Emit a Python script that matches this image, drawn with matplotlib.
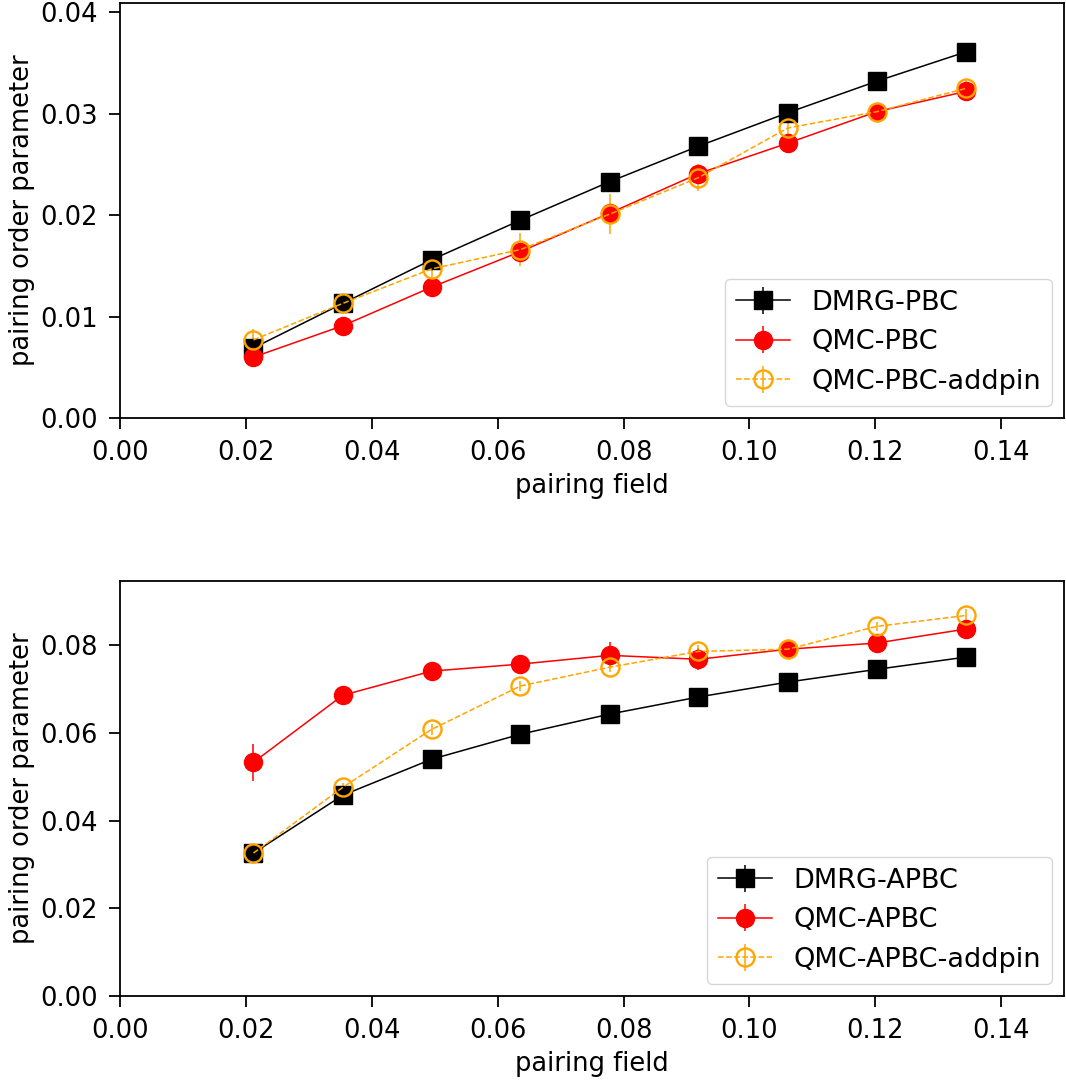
import numpy as np
import matplotlib
matplotlib.use("Agg")
import matplotlib.pyplot as plt

# pairing field values (shared by both panels)
field = [0.0212, 0.0354, 0.0495, 0.0636, 0.0778, 0.0919, 0.1061, 0.1202, 0.1344]

# PBC panel
dmrg_pbc = [0.0069, 0.0113, 0.0156, 0.0195, 0.0233, 0.0268, 0.0301, 0.0332, 0.0361]
dmrg_pbc_err = [0.0002, 0.0002, 0.0002, 0.0002, 0.0002, 0.0002, 0.0002, 0.0002, 0.0002]
qmc_pbc = [0.0060, 0.0091, 0.0129, 0.0164, 0.0202, 0.0241, 0.0271, 0.0302, 0.0322]
qmc_pbc_err = [0.0004, 0.0004, 0.0005, 0.0005, 0.0006, 0.0006, 0.0005, 0.0005, 0.0005]
pin_pbc = [0.0077, 0.0113, 0.0147, 0.0166, 0.0201, 0.0237, 0.0286, 0.0302, 0.0325]
pin_pbc_err = [0.0011, 0.0006, 0.0008, 0.0016, 0.0020, 0.0013, 0.0006, 0.0008, 0.0008]

# APBC panel
dmrg_apbc = [0.0326, 0.0458, 0.0540, 0.0597, 0.0643, 0.0682, 0.0716, 0.0745, 0.0773]
dmrg_apbc_err = [0.0004, 0.0004, 0.0004, 0.0004, 0.0004, 0.0004, 0.0004, 0.0004, 0.0004]
qmc_apbc = [0.0533, 0.0686, 0.0741, 0.0757, 0.0777, 0.0768, 0.0791, 0.0805, 0.0837]
qmc_apbc_err = [0.0042, 0.0010, 0.0010, 0.0015, 0.0030, 0.0025, 0.0012, 0.0012, 0.0012]
pin_apbc = [0.0326, 0.0476, 0.0608, 0.0707, 0.0750, 0.0786, 0.0791, 0.0843, 0.0868]
pin_apbc_err = [0.0008, 0.0010, 0.0012, 0.0012, 0.0012, 0.0015, 0.0008, 0.0010, 0.0015]

plt.rcParams['font.family'] = ['DejaVu Sans']

fig = plt.figure(figsize=(10.66, 10.8), dpi=100)
ax1 = fig.add_axes([0.1126, 0.613, 0.8856, 0.384])
ax2 = fig.add_axes([0.1126, 0.0778, 0.8856, 0.384])


def draw_panel(ax, dmrg, dmrg_err, qmc, qmc_err, pin, pin_err, labels, ylim):
    ax.errorbar(field, dmrg, yerr=dmrg_err, color='black', marker='s', markersize=13,
                linewidth=1.1, elinewidth=1.1, label=labels[0])
    ax.errorbar(field, qmc, yerr=qmc_err, color='red', marker='o', markersize=13,
                linewidth=1.1, elinewidth=1.1, label=labels[1])
    ax.errorbar(field, pin, yerr=pin_err, color='orange', marker='o', markersize=13,
                markerfacecolor='none', markeredgewidth=1.7, linestyle='--',
                linewidth=1.1, elinewidth=1.1, label=labels[2])
    ax.set_xlim(0, 0.15)
    ax.set_ylim(*ylim)
    ax.set_xticks(np.arange(0, 0.15, 0.02))
    ax.set_xlabel('pairing field', fontsize=18.5, labelpad=5)
    ax.set_ylabel('pairing order parameter', fontsize=18.5, labelpad=4)
    ax.tick_params(labelsize=18.5, length=8, width=1.3, pad=8)
    for s in ax.spines.values():
        s.set_linewidth(1.3)
    ax.legend(loc='lower right', fontsize=19.5, borderaxespad=0.45)


draw_panel(ax1, dmrg_pbc, dmrg_pbc_err, qmc_pbc, qmc_pbc_err, pin_pbc, pin_pbc_err,
           ['DMRG-PBC', 'QMC-PBC', 'QMC-PBC-addpin'], (0, 0.0409))
ax1.set_yticks([0.00, 0.01, 0.02, 0.03, 0.04])

draw_panel(ax2, dmrg_apbc, dmrg_apbc_err, qmc_apbc, qmc_apbc_err, pin_apbc, pin_apbc_err,
           ['DMRG-APBC', 'QMC-APBC', 'QMC-APBC-addpin'], (0, 0.0946))
ax2.set_yticks([0.00, 0.02, 0.04, 0.06, 0.08])

fig.savefig('out.png', dpi=100)
